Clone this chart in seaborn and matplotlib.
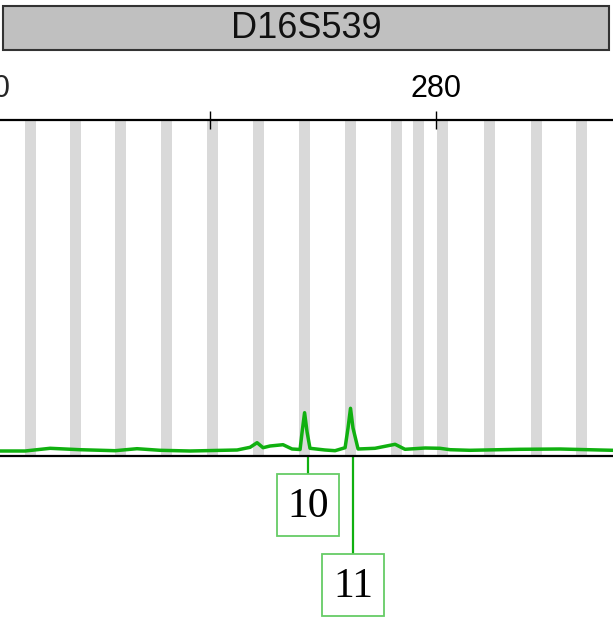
# Electropherogram panel for marker D16S539
import matplotlib
matplotlib.use("Agg")
import matplotlib.pyplot as plt
import matplotlib.patches as mpatches
import seaborn as sns
import pandas as pd

sns.set_style("white")
plt.rcParams["font.family"] = ["Liberation Sans", "DejaVu Sans"]

# Data
marker = "D16S539"
size_bp = [241.36, 243.58, 245.80, 248.45, 251.56, 253.50, 255.54, 258.20, 262.37,
           263.52, 264.14, 264.67, 265.29, 266.44, 267.24, 267.95, 268.13, 268.35,
           268.57, 268.83, 270.16, 271.05, 271.94, 272.20, 272.42, 272.64, 273.09,
           274.59, 276.37, 277.25, 279.03, 280.35, 281.24, 283.01, 287.44, 290.99,
           294.53, 295.68]
rfu = [50, 50, 77, 63, 53, 73, 57, 50, 60,
       87, 133, 83, 100, 113, 70, 65, 240, 433,
       240, 77, 60, 53, 83, 280, 477, 280, 70,
       77, 117, 67, 80, 77, 63, 57, 67, 70,
       60, 57]
bin_centers = [244.07, 248.05, 252.04, 256.12, 260.19, 264.23, 268.35, 272.42,
               276.50, 278.45, 280.58, 284.74, 288.91, 292.89]
allele_labels = ["10", "11"]
allele_sizes = [268.66, 272.64]
tick_values = [240, 260, 280]
tick_labels = ["240", "", "280"]

df = pd.DataFrame({"size": size_bp, "rfu": rfu})

W, H = 613, 618
fig = plt.figure(figsize=(W / 100, H / 100), dpi=100)

# marker header box
fig.patches.append(mpatches.Rectangle((3 / W, 1 - 50 / H), 606 / W, 44 / H,
                                      transform=fig.transFigure, facecolor="#c0c0c0",
                                      edgecolor="#333333", linewidth=1.5))
fig.text(306 / W, 1 - 28 / H, marker, ha="center", va="center", fontsize=26, color="#111111")

# plot area: px 120 (top) to 456 (bottom)
ax = fig.add_axes([0, (H - 456) / H, 1, 336 / H])

for c in bin_centers:
    ax.axvspan(c - 0.49, c + 0.49, color="#d9d9d9", lw=0, zorder=0)

sns.lineplot(data=df, x="size", y="rfu", ax=ax, color="#10b010", linewidth=2.5, zorder=3)

ax.set_xlabel("")
ax.set_ylabel("")
ax.set_yticks([])
ax.xaxis.tick_top()
ax.set_xticks(tick_values)
ax.set_xticklabels(tick_labels)
# limits after the ticks, set_xticks widens the view otherwise
ax.set_xlim(241.36, 295.68)
ax.set_ylim(0, 3360)
ax.tick_params(axis="x", direction="inout", length=13, width=1, pad=5, labelsize=22,
               colors="black")
for s in ["left", "right"]:
    ax.spines[s].set_visible(False)
for s in ["top", "bottom"]:
    ax.spines[s].set_linewidth(1.6)
    ax.spines[s].set_color("black")

# tick labels that fall just outside the view (cut by the figure edge)
for v, lab in zip(tick_values, tick_labels):
    if lab and v < 241.36:
        ax.annotate(lab, xy=(v, 1), xycoords=("data", "axes fraction"),
                    xytext=(0, 11.5), textcoords="offset points", ha="center",
                    va="bottom", fontsize=22, annotation_clip=False)

# allele call boxes below the baseline
box_w = 62 / 11.285
box_h = 620
box_tops = [-180, -980]
for lab, x, top in zip(allele_labels, allele_sizes, box_tops):
    ax.plot([x, x], [0, top], color="#10b010", lw=1.6, clip_on=False, zorder=2)
    ax.add_patch(mpatches.Rectangle((x - box_w / 2, top - box_h), box_w, box_h,
                                    facecolor="white", edgecolor="#66cc66", lw=1.3,
                                    clip_on=False, zorder=2))
    ax.text(x, top - box_h / 2 - 20, lab, ha="center", va="center", fontsize=30,
            family=["Liberation Serif", "DejaVu Serif"], color="black", clip_on=False)

fig.savefig("out.png", dpi=100)
